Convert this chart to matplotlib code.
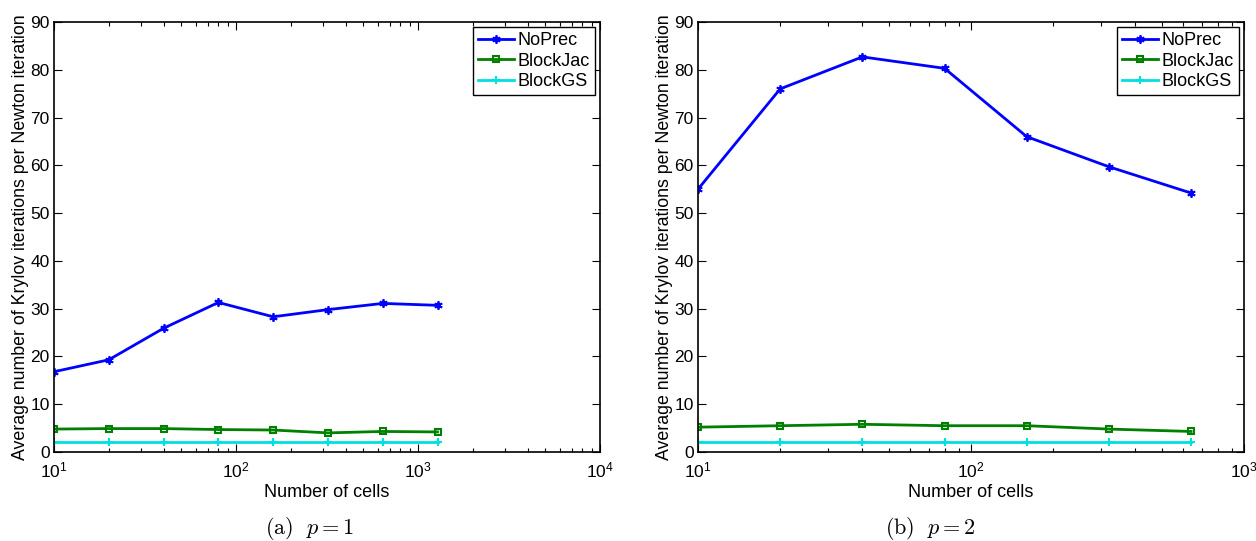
import matplotlib
matplotlib.use("Agg")
import matplotlib.pyplot as plt
from matplotlib.ticker import LogLocator, NullFormatter

plt.rcParams['font.family'] = ['Liberation Sans', 'DejaVu Sans']
plt.rcParams['mathtext.fontset'] = 'cm'

cells_a = [10, 20, 40, 80, 160, 320, 640, 1280]
noprec_a = [16.8, 19.3, 25.9, 31.3, 28.3, 29.8, 31.1, 30.7]
blockjac_a = [4.8, 4.9, 4.9, 4.7, 4.6, 4.0, 4.3, 4.2]
blockgs_a = [2, 2, 2, 2, 2, 2, 2, 2]

cells_b = [10, 20, 40, 80, 160, 320, 640]
noprec_b = [55.0, 76.0, 82.7, 80.3, 66.0, 59.7, 54.2]
blockjac_b = [5.2, 5.5, 5.8, 5.5, 5.5, 4.8, 4.3]
blockgs_b = [2, 2, 2, 2, 2, 2, 2]

captions = [r"$\mathrm{(a)}\ \ p=1$", r"$\mathrm{(b)}\ \ p=2$"]
caption_x = [310, 930]
xlims = [(10, 1e4), (10, 1e3)]
ylabel = "Average number of Krylov iterations per Newton iteration"
xlabel = "Number of cells"

fig = plt.figure(figsize=(12.56, 5.41), dpi=100)
W, H = 1256, 541
rects = [(54, 22, 600, 452), (698, 22, 1244, 452)]
datasets = [(cells_a, noprec_a, blockjac_a, blockgs_a),
            (cells_b, noprec_b, blockjac_b, blockgs_b)]

for i, (r, d) in enumerate(zip(rects, datasets)):
    x0, y0, x1, y1 = r
    ax = fig.add_axes([x0 / W, 1 - y1 / H, (x1 - x0) / W, (y1 - y0) / H])
    c, n, j, g = d
    ax.plot(c, n, color='#0000ff', lw=2, marker=(6, 2, 0), ms=6, mew=1.3,
            label='NoPrec')
    ax.plot(c, j, color='#008000', lw=2, marker='s', ms=5, mew=1.5,
            mfc='none', label='BlockJac')
    ax.plot(c, g, color='#00e0e0', lw=2, marker='+', ms=6, mew=1.5,
            label='BlockGS')
    ax.set_xscale('log')
    ax.set_xlim(*xlims[i])
    ax.set_ylim(0, 90)
    ax.set_yticks(range(0, 91, 10))
    ax.xaxis.set_minor_locator(LogLocator(base=10, subs=range(2, 10)))
    ax.xaxis.set_minor_formatter(NullFormatter())
    ax.tick_params(which='both', direction='in', top=True, right=True,
                   labelsize=12.5, width=0.8)
    ax.tick_params(axis='y', which='major', length=6, pad=3)
    ax.tick_params(axis='x', which='major', length=6, pad=6)
    ax.tick_params(which='minor', length=3)
    for s in ax.spines.values():
        s.set_linewidth(1.2)
    ax.set_xlabel(xlabel, fontsize=13, labelpad=3)
    ax.set_ylabel(ylabel, fontsize=12.8, labelpad=1)
    leg = ax.legend(loc='upper right', fontsize=13, fancybox=False,
                    edgecolor='black', framealpha=1, borderpad=0.25,
                    handlelength=2.0, handletextpad=0.22, labelspacing=0.2,
                    borderaxespad=0.3)
    leg.get_frame().set_linewidth(1.0)
    fig.text(caption_x[i] / W, 1 - 529 / H, captions[i], ha='center',
             va='center', fontsize=16)

fig.savefig('out.png', dpi=100)
